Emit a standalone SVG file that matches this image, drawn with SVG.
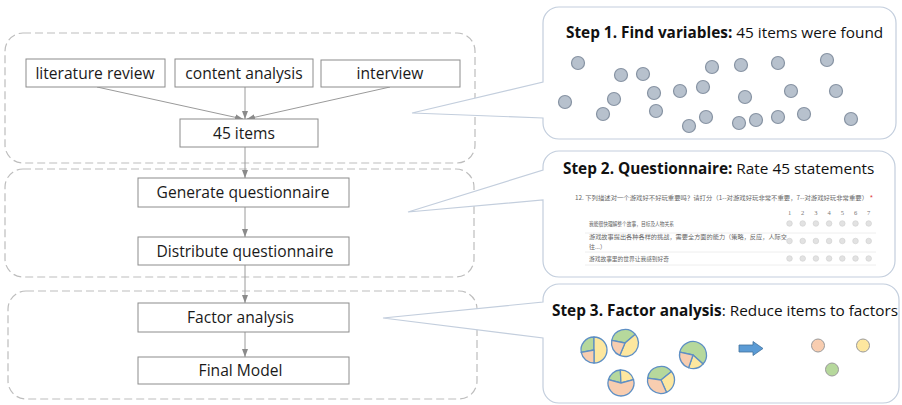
<svg xmlns="http://www.w3.org/2000/svg" width="902" height="405" viewBox="0 0 902 405">
<style>
.grp{fill:none;stroke:#bdbdbd;stroke-width:1.2;stroke-dasharray:8 4}
.node rect{fill:#fff;stroke:#8c8c8c;stroke-width:1}
.node text{font-family:"Open Sans","Liberation Sans",sans-serif;font-size:15.6px;fill:#1a1a1a;text-anchor:middle}
.conn line{stroke:#9a9a9a;stroke-width:1}
.callout{fill:#fff;stroke:#c3cedd;stroke-width:1.2}
.title{font-family:"Open Sans","Liberation Sans",sans-serif;font-size:15.35px;fill:#111}
.title .b{font-weight:bold}
.dot{fill:#b7c1cd;stroke:#8793a3;stroke-width:1.2}
.q{font-family:"Noto Sans CJK SC","Noto Sans",sans-serif;font-size:6px;fill:#666}
.num{font-family:"Liberation Serif",serif;font-size:6.5px;fill:#777;text-anchor:middle}
.radio{fill:#e2e2e2;stroke:#cfcfcf;stroke-width:0.6}
.sep{stroke:#eeeeee;stroke-width:1}
.pie path{stroke:#5e8fc4;stroke-width:1.3;stroke-linejoin:round}
.g{fill:#b6d89c}.y{fill:#fde79f}.s{fill:#f8cdb0}
.fc{stroke:#9a9a9a;stroke-width:1}
</style>
<defs>
<marker id="ah" markerWidth="8" markerHeight="6" refX="8" refY="3" orient="auto" markerUnits="userSpaceOnUse">
<path d="M0,0 L8,3 L0,6 Z" fill="#8a8a8a"/>
</marker>
</defs>
<rect width="902" height="405" fill="#fff"/>

<!-- dashed phase groups -->
<g id="phases">
<rect class="grp" x="5" y="33" width="470" height="130" rx="18"/>
<rect class="grp" x="5" y="169" width="469" height="108" rx="18"/>
<rect class="grp" x="8" y="291" width="469" height="108" rx="18"/>
</g>

<!-- callouts -->
<g id="callout1">
<path class="callout" d="M559,7 H880 A16,16 0 0 1 896,23 V123 A16,16 0 0 1 880,139 H559 A16,16 0 0 1 543,123 V118 L412,113 L543,82 V23 A16,16 0 0 1 559,7 Z"/>
<text class="title" x="566" y="38"><tspan class="b">Step 1. Find variables:</tspan> 45 items were found</text>
<g>
<circle class="dot" cx="578" cy="63" r="6.5"/>
<circle class="dot" cx="621" cy="75" r="6.5"/>
<circle class="dot" cx="643" cy="74" r="6.5"/>
<circle class="dot" cx="712" cy="67" r="6.5"/>
<circle class="dot" cx="741" cy="65" r="6.5"/>
<circle class="dot" cx="778" cy="63" r="6.5"/>
<circle class="dot" cx="827" cy="60" r="6.5"/>
<circle class="dot" cx="565" cy="102" r="6.5"/>
<circle class="dot" cx="614" cy="99" r="6.5"/>
<circle class="dot" cx="603" cy="114" r="6.5"/>
<circle class="dot" cx="654" cy="93" r="6.5"/>
<circle class="dot" cx="656" cy="111" r="6.5"/>
<circle class="dot" cx="680" cy="91" r="6.5"/>
<circle class="dot" cx="703" cy="87" r="6.5"/>
<circle class="dot" cx="745" cy="97" r="6.5"/>
<circle class="dot" cx="791" cy="91" r="6.5"/>
<circle class="dot" cx="836" cy="91" r="6.5"/>
<circle class="dot" cx="689" cy="126" r="6.5"/>
<circle class="dot" cx="706" cy="117" r="6.5"/>
<circle class="dot" cx="739" cy="123" r="6.5"/>
<circle class="dot" cx="756" cy="120" r="6.5"/>
<circle class="dot" cx="778" cy="117" r="6.5"/>
<circle class="dot" cx="804" cy="114" r="6.5"/>
<circle class="dot" cx="851" cy="119" r="6.5"/>
</g>
</g>

<g id="callout2">
<path class="callout" d="M559,151 H879 A16,16 0 0 1 895,167 V261 A16,16 0 0 1 879,277 H559 A16,16 0 0 1 543,261 V200 L408,212 L543,170 V167 A16,16 0 0 1 559,151 Z"/>
<text class="title" x="563" y="174"><tspan class="b">Step 2. Questionnaire:</tspan> Rate 45 statements</text>
<text class="q" x="575" y="200" textLength="293" lengthAdjust="spacingAndGlyphs">12. 下列描述对一个游戏好不好玩重要吗？请打分（1--对游戏好玩非常不重要，7--对游戏好玩非常重要）</text>
<text x="870" y="200" font-family="Liberation Sans,sans-serif" font-size="7" fill="#e03030">*</text>
<g class="numbers">
<text class="num" x="789.5" y="215">1</text>
<text class="num" x="802.7" y="215">2</text>
<text class="num" x="815.9" y="215">3</text>
<text class="num" x="829.1" y="215">4</text>
<text class="num" x="842.3" y="215">5</text>
<text class="num" x="855.5" y="215">6</text>
<text class="num" x="868.7" y="215">7</text>
</g>
<text class="q" x="589" y="225.5" textLength="85" lengthAdjust="spacingAndGlyphs">我能很快理解整个故事，目标及人物关系</text>
<text class="q" x="589" y="239" textLength="198" lengthAdjust="spacingAndGlyphs">游戏故事提出各种各样的挑战，需要全方面的能力（策略，反应，人际交</text>
<text class="q" x="589" y="248.5">往...）</text>
<text class="q" x="589" y="260.5" textLength="80" lengthAdjust="spacingAndGlyphs">游戏故事里的世界让我感到好奇</text>
<line class="sep" x1="585" y1="233" x2="876" y2="233"/>
<line class="sep" x1="585" y1="252" x2="876" y2="252"/>
<line class="sep" x1="585" y1="265" x2="876" y2="265"/>
<g id="radios">
<circle class="radio" cx="789.5" cy="223.5" r="2.8"/><circle class="radio" cx="802.7" cy="223.5" r="2.8"/><circle class="radio" cx="815.9" cy="223.5" r="2.8"/><circle class="radio" cx="829.1" cy="223.5" r="2.8"/><circle class="radio" cx="842.3" cy="223.5" r="2.8"/><circle class="radio" cx="855.5" cy="223.5" r="2.8"/><circle class="radio" cx="868.7" cy="223.5" r="2.8"/>
<circle class="radio" cx="789.5" cy="241" r="2.8"/><circle class="radio" cx="802.7" cy="241" r="2.8"/><circle class="radio" cx="815.9" cy="241" r="2.8"/><circle class="radio" cx="829.1" cy="241" r="2.8"/><circle class="radio" cx="842.3" cy="241" r="2.8"/><circle class="radio" cx="855.5" cy="241" r="2.8"/><circle class="radio" cx="868.7" cy="241" r="2.8"/>
<circle class="radio" cx="789.5" cy="258.5" r="2.8"/><circle class="radio" cx="802.7" cy="258.5" r="2.8"/><circle class="radio" cx="815.9" cy="258.5" r="2.8"/><circle class="radio" cx="829.1" cy="258.5" r="2.8"/><circle class="radio" cx="842.3" cy="258.5" r="2.8"/><circle class="radio" cx="855.5" cy="258.5" r="2.8"/><circle class="radio" cx="868.7" cy="258.5" r="2.8"/>
</g>
</g>

<g id="callout3">
<path class="callout" d="M559,284 H883 A16,16 0 0 1 899,300 V387 A16,16 0 0 1 883,403 H559 A16,16 0 0 1 543,387 V338 L383,318 L543,302 V300 A16,16 0 0 1 559,284 Z"/>
<text class="title" x="552" y="316"><tspan class="b">Step 3. Factor analysis</tspan>: Reduce items to factors</text>
<g class="pie" id="pieA">
<path class="g" d="M594,350 L581.24,352.48 A13,13 0 0 1 594,337 Z"/>
<path class="y" d="M594,350 L594,337 A13,13 0 0 1 594,363 Z"/>
<path class="s" d="M594,350 L594,363 A13,13 0 0 1 581.24,352.48 Z"/>
</g>
<g class="pie" id="pieB">
<path class="g" d="M625,343 L611.75,340.42 A13.5,13.5 0 0 1 635.34,334.32 Z"/>
<path class="y" d="M625,343 L635.34,334.32 A13.5,13.5 0 0 1 619.73,355.43 Z"/>
<path class="s" d="M625,343 L619.73,355.43 A13.5,13.5 0 0 1 611.75,340.42 Z"/>
</g>
<g class="pie" id="pieC">
<path class="g" d="M693,355 L679.80,352.19 A13.5,13.5 0 1 1 703.03,364.03 Z"/>
<path class="y" d="M693,355 L703.03,364.03 A13.5,13.5 0 0 1 688.60,367.76 Z"/>
<path class="s" d="M693,355 L688.60,367.76 A13.5,13.5 0 0 1 679.80,352.19 Z"/>
</g>
<g class="pie" id="pieD">
<path class="g" d="M621,383 L608.44,379.64 A13,13 0 0 1 620.32,370.02 Z"/>
<path class="y" d="M621,383 L620.32,370.02 A13,13 0 0 1 633.56,379.64 Z"/>
<path class="s" d="M621,383 L633.56,379.64 A13,13 0 1 1 608.44,379.64 Z"/>
</g>
<g class="pie" id="pieE">
<path class="g" d="M661,380 L647.63,378.12 A13.5,13.5 0 0 1 671.49,371.50 Z"/>
<path class="y" d="M661,380 L671.49,371.50 A13.5,13.5 0 0 1 666.49,392.33 Z"/>
<path class="s" d="M661,380 L666.49,392.33 A13.5,13.5 0 0 1 647.63,378.12 Z"/>
</g>
<polygon points="739,345 753,345 753,341.5 763,348.5 753,355.5 753,352 739,352" fill="#5b9bd5" stroke="#41719c" stroke-width="0.8"/>
<circle class="fc s" cx="818" cy="345.5" r="6.5"/>
<circle class="fc y" cx="863" cy="345.5" r="6.5"/>
<circle class="fc g" cx="832" cy="369.5" r="6.5"/>
</g>

<!-- connectors -->
<g id="connectors" class="conn">
<line x1="97" y1="87" x2="243" y2="119" marker-end="url(#ah)"/>
<line x1="245" y1="87" x2="245" y2="119" marker-end="url(#ah)"/>
<line x1="390" y1="87" x2="247" y2="119" marker-end="url(#ah)"/>
<line x1="245" y1="147" x2="245" y2="178" marker-end="url(#ah)"/>
<line x1="245" y1="207" x2="245" y2="237" marker-end="url(#ah)"/>
<line x1="245" y1="265" x2="245" y2="303" marker-end="url(#ah)"/>
<line x1="245" y1="332" x2="245" y2="357" marker-end="url(#ah)"/>
</g>

<!-- nodes -->
<g id="n-literature" class="node"><rect x="26" y="59" width="139" height="28"/><text x="95" y="78.5">literature review</text></g>
<g id="n-content" class="node"><rect x="175" y="59" width="138" height="28"/><text x="244" y="78.5">content analysis</text></g>
<g id="n-interview" class="node"><rect x="321" y="60" width="139" height="27"/><text x="390" y="79">interview</text></g>
<g id="n-items" class="node"><rect x="180" y="119" width="138" height="28"/><text x="244" y="138.5">45 items</text></g>
<g id="n-generate" class="node"><rect x="138" y="178" width="211" height="29"/><text x="243" y="198">Generate questionnaire</text></g>
<g id="n-distribute" class="node"><rect x="138" y="237" width="211" height="28"/><text x="245" y="256.5">Distribute questionnaire</text></g>
<g id="n-factor" class="node"><rect x="138" y="303" width="211" height="29"/><text x="240.5" y="323">Factor analysis</text></g>
<g id="n-final" class="node"><rect x="138" y="357" width="211" height="27"/><text x="240.5" y="376">Final Model</text></g>
</svg>
